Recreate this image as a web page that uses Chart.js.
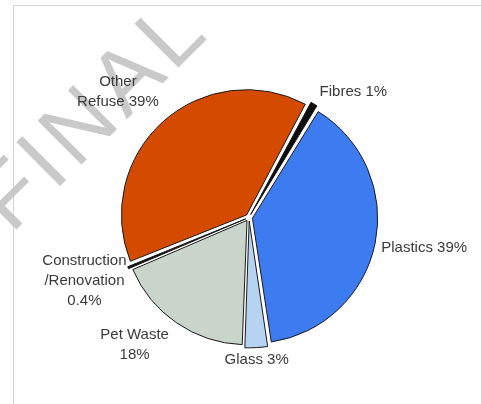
<!DOCTYPE html>
<html>
<head>
<meta charset="utf-8">
<script src="https://cdn.jsdelivr.net/npm/chart.js@4/dist/chart.umd.min.js"></script>
<style>
    body { margin: 0; background: #fff; }
    #wrap { width: 481px; height: 404px; position: relative; }
</style>
</head>
<body>
<div id="wrap"><canvas id="myChart"></canvas></div>
<script>
// 데이터
var categories = ['Fibres', 'Plastics', 'Glass', 'Pet Waste', 'Construction/Renovation', 'Other Refuse'];
var values = [1, 39, 3, 18, 0.4, 39];
// 라벨 텍스트 (줄 단위)
var labelLines = [
    ['Fibres 1%'],
    ['Plastics 39%'],
    ['Glass 3%'],
    ['Pet Waste', '18%'],
    ['Construction', '/Renovation', '0.4%'],
    ['Other', 'Refuse 39%']
];
var colors = ['#0c0c0c', '#3d7cf0', '#b6d3f2', '#c9d5ca', '#111111', '#d44b00'];
// 라벨 위치 미세 조정 (px)
var labelNudge = [[2, 4], [-3, 3], [0, -5], [-2, -6], [5, 10], [2, -3]];

// 배경 테두리 + 워터마크
var backdrop = {
    id: 'backdrop',
    beforeDraw: function(chart) {
        var c = chart.ctx;
        c.save();
        c.strokeStyle = '#d4d4d4';
        c.lineWidth = 1;
        c.beginPath();
        c.moveTo(13.5, 404);
        c.lineTo(13.5, 5.5);
        c.lineTo(481, 5.5);
        c.stroke();

        c.translate(112, 134);
        c.rotate(-Math.PI / 4);
        c.fillStyle = '#c9c9c9';
        c.font = '90px "Liberation Sans", Arial, sans-serif';
        c.letterSpacing = '6px';
        c.textAlign = 'center';
        c.textBaseline = 'alphabetic';
        c.fillText('FINAL', 0, 0);
        c.restore();
    }
};

// 바깥쪽 라벨 그리기
var outerLabels = {
    id: 'outerLabels',
    afterDatasetsDraw: function(chart) {
        var c = chart.ctx;
        var arcs = chart.getDatasetMeta(0).data;
        var lineH = 20;
        c.save();
        c.font = '15px "Liberation Sans", Arial, sans-serif';
        c.fillStyle = '#3a3a3a';
        c.textAlign = 'center';
        c.textBaseline = 'middle';
        arcs.forEach(function(arc, i) {
            var p = arc.getProps(['x', 'y', 'startAngle', 'endAngle', 'outerRadius'], true);
            var mid = (p.startAngle + p.endAngle) / 2;
            var dx = Math.cos(mid), dy = Math.sin(mid);
            var d = p.outerRadius + 14;
            var ax = p.x + dx * d + labelNudge[i][0];
            var ay = p.y + dy * d + labelNudge[i][1];
            var lines = labelLines[i];
            var w = 0;
            lines.forEach(function(t) { w = Math.max(w, c.measureText(t).width); });
            var h = lines.length * lineH;
            var left = dx > 0.3 ? ax : (dx < -0.3 ? ax - w : ax - w / 2);
            var top = dy < -0.5 ? ay - h : (dy > 0.5 ? ay : ay - h / 2);
            lines.forEach(function(t, k) {
                c.fillText(t, left + w / 2, top + lineH * k + lineH / 2);
            });
        });
        c.restore();
    }
};

var ctx = document.getElementById('myChart').getContext('2d');
var myChart = new Chart(ctx, {
    type: 'pie',
    data: {
        labels: categories,
        datasets: [{
            data: values,
            backgroundColor: colors,
            borderColor: '#1a1a1a',
            borderWidth: 1,
            offset: 14
        }]
    },
    options: {
        responsive: true,
        maintainAspectRatio: false,
        animation: false,
        rotation: 28,
        layout: { padding: { top: 86, bottom: 55, left: 100, right: 83 } },
        plugins: {
            legend: { display: false },
            tooltip: { enabled: false }
        }
    },
    plugins: [backdrop, outerLabels]
});
</script>
</body>
</html>
